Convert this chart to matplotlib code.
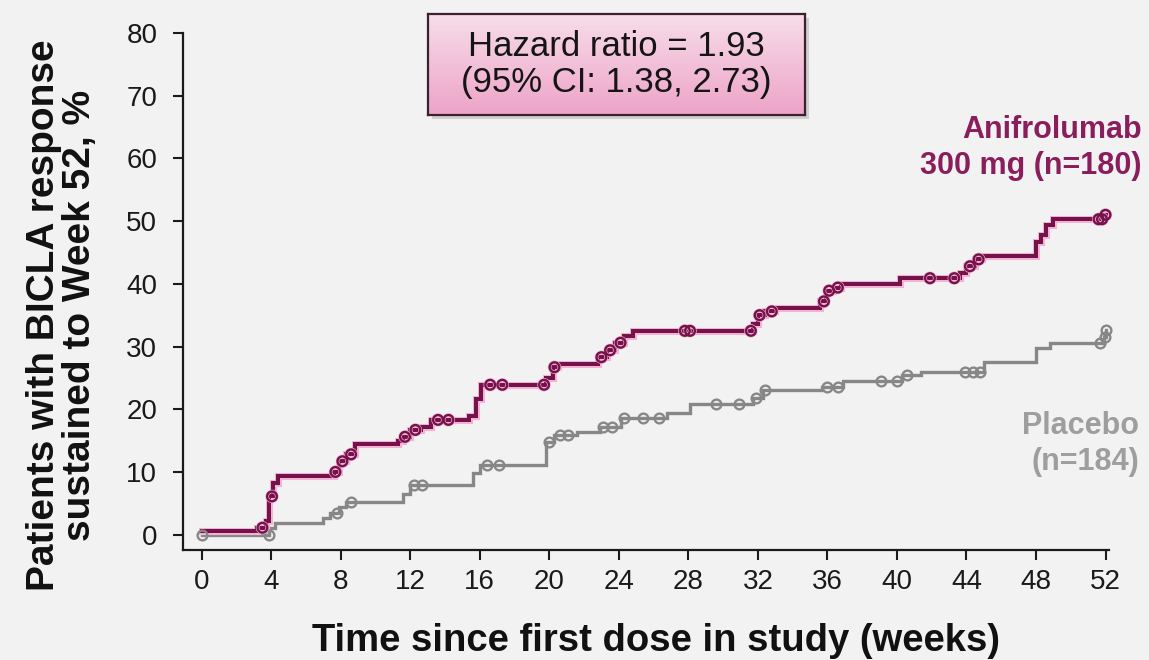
import numpy as np
import matplotlib
matplotlib.use("Agg")
import matplotlib.pyplot as plt
import matplotlib.patheffects as pe
from matplotlib.patches import Rectangle
from matplotlib.colors import LinearSegmentedColormap

plt.rcParams['font.family'] = ['Liberation Sans', 'DejaVu Sans']

# Kaplan-Meier style cumulative response (%) : step times (weeks) and level after each step
anif_times = [0, 3.2, 3.7, 3.9, 4.1, 4.4, 7.6, 7.9, 8.3, 8.8, 11.3, 11.6, 12.0, 12.6, 13.2,
              15.4, 15.8, 16.1, 19.8, 20.2, 20.5, 22.8, 23.3, 23.8, 24.3, 24.8, 31.7, 32.0,
              32.4, 33.0, 35.6, 35.9, 36.3, 36.8, 40.2, 43.6, 44.0, 44.5, 44.9, 48.0, 48.3,
              48.6, 49.0, 51.9]
anif_values = [0.6, 1.1, 2.2, 6.1, 8.3, 9.4, 10.0, 11.7, 12.8, 14.4, 15.0, 15.6, 16.7, 17.2, 18.3,
               18.9, 21.7, 23.9, 25.0, 26.7, 27.2, 28.3, 29.4, 30.6, 31.7, 32.5, 33.6, 35.0,
               35.6, 36.1, 37.2, 38.9, 39.4, 40.0, 40.9, 41.7, 42.8, 43.9, 44.4, 46.7, 47.8,
               49.4, 50.3, 51.0]
anif_censor = [3.5, 4.05, 7.7, 8.1, 8.6, 11.7, 12.3, 13.6, 14.2, 16.6, 17.3, 19.7, 20.3, 23.0,
               23.5, 24.1, 27.8, 28.1, 31.6, 32.1, 32.8, 35.8, 36.1, 36.6, 41.9, 43.3, 44.2,
               44.7, 51.6, 51.8, 52.0]

plac_times = [0, 3.9, 4.2, 7.0, 7.4, 7.9, 8.3, 11.6, 12.0, 15.6, 16.0, 19.8, 20.3, 21.6, 22.9,
              24.1, 26.8, 28.1, 31.7, 32.3, 35.7, 36.9, 40.3, 41.4, 45.0, 48.0, 48.8, 51.9, 52.0]
plac_values = [0.0, 1.1, 1.9, 2.7, 3.4, 4.4, 5.2, 6.5, 7.9, 9.8, 11.1, 14.8, 15.9, 16.4, 17.2,
               18.6, 19.4, 20.8, 21.8, 23.1, 23.6, 24.5, 25.4, 25.9, 27.5, 29.8, 30.5, 31.5, 32.6]
plac_censor = [0, 3.85, 7.8, 8.6, 12.2, 12.7, 16.4, 17.1, 20.0, 20.6, 21.1, 23.1, 23.6, 24.3,
               25.4, 26.3, 29.6, 30.9, 31.9, 32.4, 36.0, 36.6, 39.1, 40.0, 40.6, 43.9, 44.4,
               44.8, 51.7, 51.95, 52.0]

end_week = 52
x_ticks = list(range(0, 53, 4))
y_ticks = list(range(0, 81, 10))

ANIF = '#76124a'
ANIF_GLOW = '#f4b3d6'
PLAC = '#878787'
BG = '#f2f2f2'

W, H = 1149, 660
fig = plt.figure(figsize=(W / 100, H / 100), dpi=100, facecolor=BG)
ax = fig.add_axes([183 / W, 1 - 550 / H, (1109 - 183) / W, (550 - 33) / H], facecolor=BG)


def level_at(times, values, t):
    idx = np.searchsorted(times, t, side='right') - 1
    return np.asarray(values)[idx]


def draw_curve(times, values, censor, color, lw, glow=None):
    t = list(times) + [end_week]
    v = list(values) + [values[-1]]
    line_fx = [pe.Stroke(linewidth=lw + 2.2, foreground=glow), pe.Normal()] if glow else None
    ax.step(t, v, where='post', color=color, lw=lw, solid_joinstyle='miter',
            path_effects=line_fx, zorder=3)
    cy = level_at(times, values, censor)
    mark_fx = [pe.Stroke(linewidth=2.6, foreground=glow), pe.Normal()] if glow else None
    ax.plot(censor, cy, 'o', ms=7, mfc='none', mec=color, mew=1.7,
            path_effects=mark_fx, zorder=4, clip_on=False)


draw_curve(plac_times, plac_values, plac_censor, PLAC, 2.4)
draw_curve(anif_times, anif_values, anif_censor, ANIF, 2.9, glow=ANIF_GLOW)

ax.set_xlim(-1.07, 52.2)
ax.set_ylim(-2.45, 80)
ax.set_xticks(x_ticks)
ax.set_yticks(y_ticks)
for s in ['top', 'right']:
    ax.spines[s].set_visible(False)
for s in ['left', 'bottom']:
    ax.spines[s].set_linewidth(1.6)
    ax.spines[s].set_color('#1a1a1a')
ax.tick_params(axis='both', direction='out', length=7.5, width=1.5, color='#1a1a1a',
               labelsize=20, labelcolor='#1a1a1a')
ax.tick_params(axis='y', pad=11)
ax.tick_params(axis='x', pad=6)

# axis titles
fig.text(62 / W, 1 - 315 / H, 'Patients with BICLA response\nsustained to Week 52, %',
         rotation=90, ha='center', va='center', multialignment='center',
         fontsize=28, fontweight='bold', color='#111111', linespacing=1.02)
fig.text(656 / W, 1 - 641 / H, 'Time since first dose in study (weeks)',
         ha='center', va='center', fontsize=27.5, fontweight='bold', color='#111111')

# group labels
fig.text(1142 / W, 1 - 148 / H, 'Anifrolumab\n300 mg (n=180)', ha='right', va='center',
         multialignment='right', fontsize=22, fontweight='bold', color='#8a1d5c',
         linespacing=1.25)
fig.text(1139 / W, 1 - 444 / H, 'Placebo\n(n=184)', ha='right', va='center',
         multialignment='right', fontsize=22, fontweight='bold', color='#9e9e9e',
         linespacing=1.3)

# hazard ratio box with soft pink gradient and a faint drop shadow
bx0, by0, bx1, by1 = 428, 14, 805, 115
shadow = fig.add_axes([(bx0 + 4) / W, 1 - (by1 + 4) / H, (bx1 - bx0) / W, (by1 - by0) / H],
                      zorder=5)
shadow.set_facecolor('#c9c9c9')
shadow.set_axis_off()
shadow.add_patch(Rectangle((0, 0), 1, 1, transform=shadow.transAxes,
                           facecolor='#cfcfcf', edgecolor='none'))
box = fig.add_axes([bx0 / W, 1 - by1 / H, (bx1 - bx0) / W, (by1 - by0) / H], zorder=6)
grad = np.linspace(0, 1, 256).reshape(-1, 1)
pink = LinearSegmentedColormap.from_list('pinkfade', ['#f7dde9', '#eda3c8'])
box.imshow(grad, aspect='auto', cmap=pink, extent=[0, 1, 1, 0])
box.set_xlim(0, 1)
box.set_ylim(1, 0)
box.set_xticks([])
box.set_yticks([])
for s in box.spines.values():
    s.set_linewidth(1.6)
    s.set_color('#3b2030')
box.text(0.5, 0.5, 'Hazard ratio = 1.93\n(95% CI: 1.38, 2.73)', ha='center', va='center',
         fontsize=25, color='#151515', linespacing=1.15, transform=box.transAxes)

fig.savefig('out.png', dpi=100, facecolor=BG)
